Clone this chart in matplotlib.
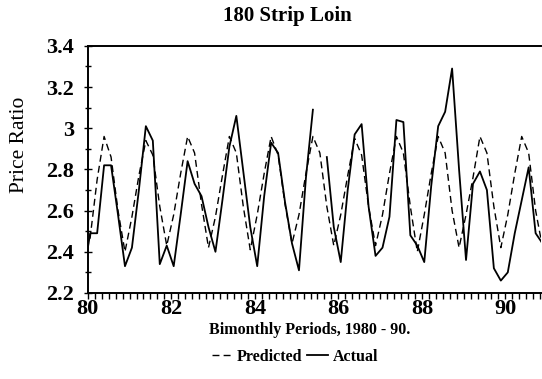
import numpy as np
from matplotlib import pyplot as plt
from matplotlib.ticker import MultipleLocator

# bimonthly periods; the first and last points sit just outside the frame
periods = 80 + np.arange(67) / 6 - 0.11

predicted = [2.36, 2.47, 2.75, 2.96, 2.86, 2.60, 2.40, 2.57, 2.77, 2.94,
             2.87, 2.62, 2.43, 2.58, 2.78, 2.96, 2.88, 2.63, 2.42, 2.57,
             2.77, 2.96, 2.88, 2.62, 2.41, 2.58, 2.78, 2.96, 2.87, 2.63,
             2.44, 2.58, 2.78, 2.96, 2.88, 2.62, 2.43, 2.58, 2.77, 2.95,
             2.87, 2.62, 2.43, 2.58, 2.78, 2.96, 2.88, 2.62, 2.40, 2.58,
             2.78, 2.96, 2.88, 2.60, 2.42, 2.58, 2.76, 2.96, 2.88, 2.62,
             2.42, 2.58, 2.78, 2.96, 2.88, 2.60, 2.42]

actual = [2.28, 2.49, 2.49, 2.82, 2.82, 2.58, 2.33, 2.42, 2.70, 3.01,
          2.94, 2.34, 2.43, 2.33, 2.58, 2.84, 2.73, 2.67, 2.52, 2.40,
          2.65, 2.91, 3.06, 2.79, 2.52, 2.33, 2.67, 2.93, 2.88, 2.64,
          2.44, 2.31, 2.76, 3.09, np.nan, 2.86, 2.52, 2.35, 2.70, 2.97,
          3.02, 2.62, 2.38, 2.42, 2.57, 3.04, 3.03, 2.48, 2.43, 2.35,
          2.72, 3.01, 3.08, 3.29, 2.80, 2.36, 2.73, 2.79, 2.70, 2.32,
          2.26, 2.30, 2.49, 2.65, 2.81, 2.49, 2.44]

xticks = [80, 82, 84, 86, 88, 90]
yticks = [2.2, 2.4, 2.6, 2.8, 3.0, 3.2, 3.4]
ytick_labels = ['2.2', '2.4', '2.6', '2.8', '3', '3.2', '3.4']

serif = 'Liberation Serif'

fig = plt.figure(figsize=(5.42, 3.79), dpi=100)
ax = fig.add_axes([0.162, 0.227, 0.836, 0.652])

ax.plot(periods, predicted, color='black', lw=1.0, ls=(0, (5, 3)), label='Predicted')
ax.plot(periods, actual, color='black', lw=1.3, label='Actual')

ax.set_xlim(80, 90.85)
ax.set_ylim(2.2, 3.4)
ax.set_xticks(xticks)
ax.xaxis.set_minor_locator(MultipleLocator(1 / 6))
ax.set_yticks(yticks)
ax.set_yticklabels(ytick_labels)
ax.yaxis.set_minor_locator(MultipleLocator(0.1))

ax.spines['right'].set_visible(False)
for s in ['left', 'bottom', 'top']:
    ax.spines[s].set_linewidth(1.4)

ax.tick_params(axis='y', which='both', direction='inout', length=6, width=1)
ax.tick_params(axis='y', which='minor', length=4)
ax.tick_params(axis='x', which='both', direction='out', length=4, width=1)
ax.tick_params(axis='y', labelsize=16, pad=7)
ax.tick_params(axis='x', labelsize=16, pad=0)
for lab in ax.get_xticklabels() + ax.get_yticklabels():
    lab.set_fontfamily(serif)
    lab.set_fontweight('bold')

fig.text(287 / 542, 1 - 16 / 379, '180 Strip Loin', ha='center', va='center',
         fontfamily=serif, fontweight='bold', fontsize=15)
ax.set_ylabel('Price Ratio', fontfamily=serif, fontsize=15.5)
ax.yaxis.set_label_coords(-0.13, 0.6)
ax.set_xlabel('Bimonthly Periods, 1980 - 90.', fontfamily=serif, fontweight='bold',
              fontsize=11.5)
ax.xaxis.set_label_coords(0.49, -0.118)

fig.legend(loc='center', bbox_to_anchor=(295 / 542, 1 - 357 / 379), ncol=2,
           frameon=False, handlelength=1.3, handletextpad=0.3, columnspacing=0.3,
           prop={'family': serif, 'weight': 'bold', 'size': 11.5})

fig.savefig('out.png', dpi=100)
